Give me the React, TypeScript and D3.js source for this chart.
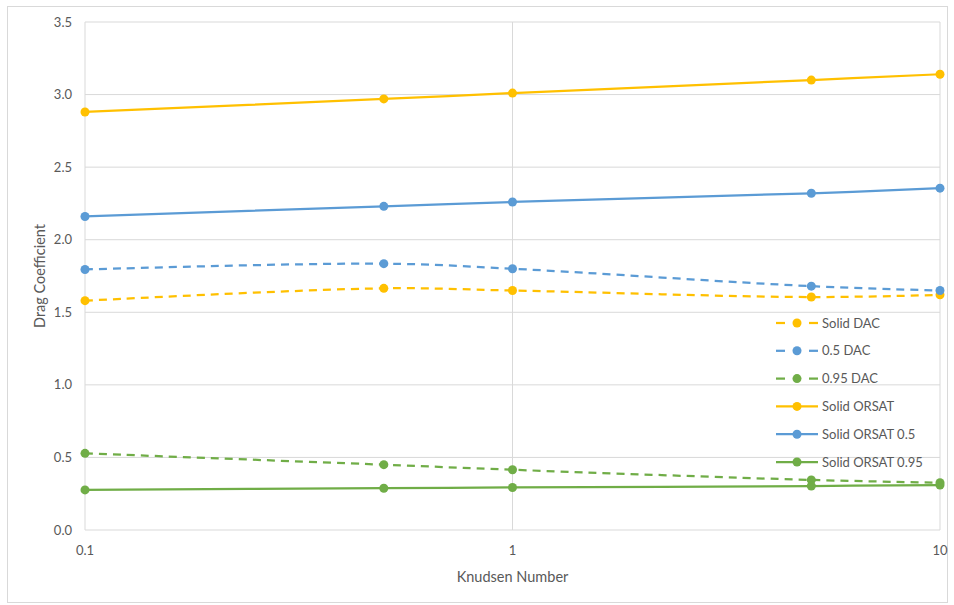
import React from "react";
import * as d3 from "d3";

const knudsen = [0.1, 0.5, 1, 5, 10];
const solidDAC = [1.58, 1.665, 1.65, 1.605, 1.62];
const halfDAC = [1.795, 1.835, 1.8, 1.68, 1.65];
const p95DAC = [0.528, 0.45, 0.415, 0.345, 0.326];
const solidORSAT = [2.88, 2.97, 3.01, 3.1, 3.14];
const solidORSAT05 = [2.16, 2.23, 2.26, 2.32, 2.355];
const solidORSAT095 = [0.276, 0.288, 0.293, 0.303, 0.31];

const yTicks = [0, 0.5, 1, 1.5, 2, 2.5, 3, 3.5];
const xTicks = [0.1, 1, 10];

const YELLOW = "#FFC000";
const BLUE = "#5B9BD5";
const GREEN = "#70AD47";

const series = [
  { name: "Solid DAC", values: solidDAC, color: YELLOW, dashed: true },
  { name: "0.5 DAC", values: halfDAC, color: BLUE, dashed: true },
  { name: "0.95 DAC", values: p95DAC, color: GREEN, dashed: true },
  { name: "Solid ORSAT", values: solidORSAT, color: YELLOW, dashed: false },
  { name: "Solid ORSAT 0.5", values: solidORSAT05, color: BLUE, dashed: false },
  { name: "Solid ORSAT 0.95", values: solidORSAT095, color: GREEN, dashed: false },
];

const W = 954;
const H = 605;
const left = 85;
const right = 940;
const top = 22;
const bottom = 530;
const FONT = "Lato, 'Liberation Sans', sans-serif";
const TEXT = "#595959";
const GRID = "#D9D9D9";
const DASH = "8,6";

export default function App() {
  const x = d3.scaleLog().domain([0.1, 10]).range([left, right]);
  const y = d3.scaleLinear().domain([0, 3.5]).range([bottom, top]);
  const line = d3
    .line<number>()
    .x((_, i) => x(knudsen[i]))
    .y((d) => y(d))
    .curve(d3.curveCatmullRom.alpha(0.5));

  const legendX = 776;
  const legendY0 = 323;
  const legendStep = 27.8;

  return (
    <svg
      width={W}
      height={H}
      style={{ position: "absolute", left: 0, top: 0, background: "#fff" }}
      fontFamily={FONT}
    >
      <rect x={7.5} y={6.5} width={940} height={596} fill="#fff" stroke={GRID} />
      {yTicks.map((t) => (
        <g key={"y" + t}>
          <line x1={left} x2={right} y1={y(t)} y2={y(t)} stroke={GRID} strokeWidth={1} />
          <text x={72} y={y(t)} dy="0.35em" textAnchor="end" fontSize={13} fill={TEXT}>
            {t.toFixed(1)}
          </text>
        </g>
      ))}
      {xTicks.map((t) => (
        <g key={"x" + t}>
          <line x1={x(t)} x2={x(t)} y1={top} y2={bottom} stroke={GRID} strokeWidth={1} />
          <text x={x(t)} y={550} dy="0.35em" textAnchor="middle" fontSize={13} fill={TEXT}>
            {String(t)}
          </text>
        </g>
      ))}
      <text
        transform={`translate(40,${(top + bottom) / 2}) rotate(-90)`}
        textAnchor="middle"
        dy="0.35em"
        fontSize={14.5}
        fill={TEXT}
      >
        Drag Coefficient
      </text>
      <text x={(left + right) / 2} y={577} textAnchor="middle" dy="0.35em" fontSize={14.5} fill={TEXT}>
        Knudsen Number
      </text>
      {series.map((s) => (
        <g key={s.name}>
          <path
            d={line(s.values) || ""}
            fill="none"
            stroke={s.color}
            strokeWidth={2.25}
            strokeDasharray={s.dashed ? DASH : undefined}
            strokeLinecap="butt"
          />
          {s.values.map((v, i) => (
            <circle key={i} cx={x(knudsen[i])} cy={y(v)} r={4.5} fill={s.color} />
          ))}
        </g>
      ))}
      {series.map((s, i) => {
        const ly = legendY0 + i * legendStep;
        return (
          <g key={"lg" + s.name}>
            {s.dashed ? (
              <>
                <line x1={legendX} x2={legendX + 9} y1={ly} y2={ly} stroke={s.color} strokeWidth={2.25} />
                <line x1={legendX + 33} x2={legendX + 42} y1={ly} y2={ly} stroke={s.color} strokeWidth={2.25} />
              </>
            ) : (
              <line x1={legendX} x2={legendX + 42} y1={ly} y2={ly} stroke={s.color} strokeWidth={2.25} />
            )}
            <circle cx={legendX + 21} cy={ly} r={4.5} fill={s.color} />
            <text x={legendX + 46} y={ly} dy="0.35em" fontSize={13} fill={TEXT}>
              {s.name}
            </text>
          </g>
        );
      })}
    </svg>
  );
}
